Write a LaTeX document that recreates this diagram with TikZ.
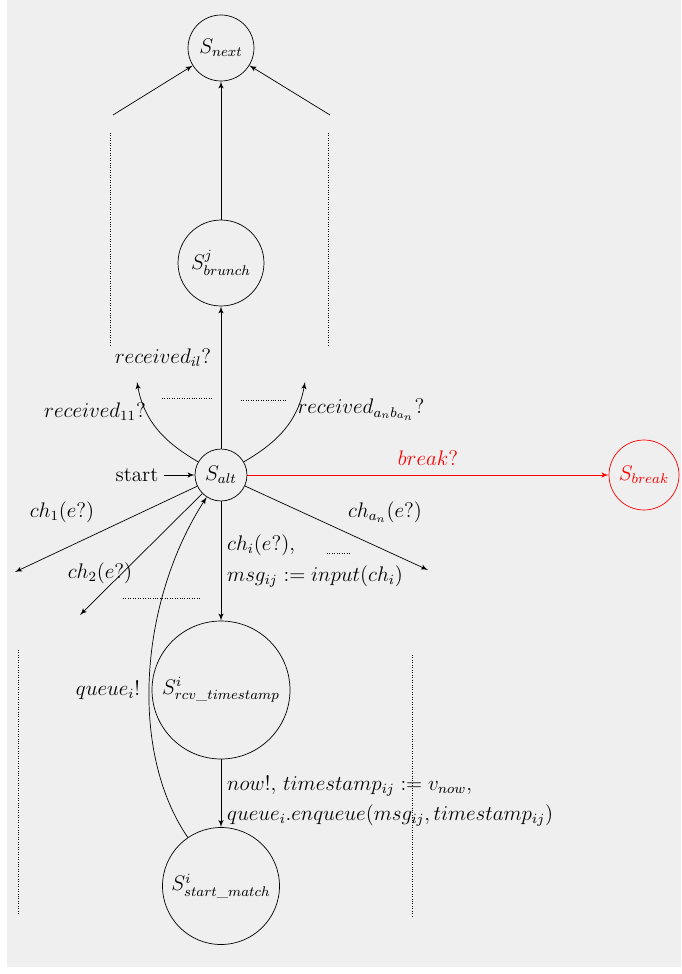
\documentclass[tikz,border=0pt]{standalone}
\usepackage{xcolor}
\definecolor{backgr}{HTML}{EFEFEF}
\usepackage{amssymb,amsmath}
\usepackage{tikz}
\usetikzlibrary{shapes,arrows,arrows.meta}
\usetikzlibrary{positioning}
\tikzstyle{state} = [circle, draw, inner sep=0pt]
\tikzstyle{line} = [draw, -latex']
\tikzstyle{sep} = [draw, densely dotted]

\begin{document}
\begin{tikzpicture}[x=0.02cm, y=-0.02cm, font=\large]

% Background
\useasboundingbox (0,0) rectangle (681,974);
\fill [backgr] (7,0) rectangle (681,967);

        % Place nodes
    \node [state, minimum size=1.32cm] (next) at (221,48) {$S_{next}$};
    \node [state, minimum size=1.72cm] (brunch) at (221,263) {$S^j_{brunch}$};
    \node [state, minimum size=1.04cm] (alt) at (221,475) {$S_{alt}$};
    \node [state, minimum size=1.40cm, red] (break) at (644,475) {$S_{break}$};
    \node [state, minimum size=2.76cm] (rcv) at (221,690) {$S^i_{rcv\text{\_}timestamp}$};
    \node [state, minimum size=2.34cm] (match) at (221,886) {$S^i_{start\text{\_}match}$};
    \node (start) at (137,475) {start};

    % Free ends
    \coordinate (nextl) at (113,115);
    \coordinate (nextr) at (330,115);
    \coordinate (recone) at (137,382);
    \coordinate (recn) at (305,382);
    \coordinate (chone) at (15,572);
    \coordinate (chtwo) at (80,615);
    \coordinate (chn) at (428,570);

    % Labels
    \node (lrecil) at (163,358) {$received_{il}?$};
    \node (lrecone) at (95,412) {$received_{11}?$};
    \node (lrecn) at (361,410) {$received_{a_nb_{a_n}}?$};
    \node (lchone) at (62,512) {$ch_1(e?)$};
    \node (lchtwo) at (100,573) {$ch_2(e?)$};
    \node (lchn) at (385,512) {$ch_{a_n}(e?)$};
    \node (lqueue) at (108,690) {$queue_i!$};

    \path [line] (nextl) -- (next);
    \path [line] (nextr) -- (next);
    \path [line] (brunch) -- (next);
    \path [line] (alt) -- (brunch);
    \path [line] (alt.150) to[out=150,in=-80] (recone);
    \path [line] (alt.30) to[out=30,in=-100] (recn);
    \path [line] (start) -- (alt);
    \path [line,red] (alt) -- node[above=2pt] {$break?$} (break);
    \path [line] (alt) -- (chone);
    \path [line] (alt) -- (chtwo);
    \path [line] (alt) -- (chn);
    \path [line] (alt) -- node[right, align=left] {$ch_i(e?),$\\[4pt] $msg_{ij} := input(ch_i)$} (rcv);
    \path [line] (rcv) -- node[right, align=left, pos=.62] {$now!,\, timestamp_{ij} := v_{now},$\\[3pt] $queue_i.enqueue(msg_{ij}, timestamp_{ij})$} (match);
    \path [line] (match) .. controls (128,750) and (140,600) .. (alt);

    % Dotted separators
    \path [sep] (110,133) -- (110,345);
    \path [sep] (328,133) -- (328,345);
    \path [sep] (162,398) -- (212,398);
    \path [sep] (241,400) -- (287,400);
    \path [sep] (327,553) -- (350,553);
    \path [sep] (123,598) -- (200,598);
    \path [sep] (18,650) -- (18,915);
    \path [sep] (412,655) -- (412,918);
\end{tikzpicture}
\end{document}
